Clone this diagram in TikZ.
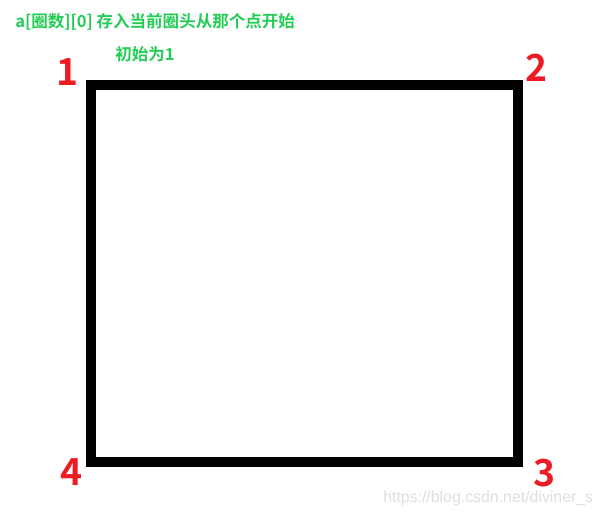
\documentclass[tikz,border=0pt]{standalone}
\usepackage{fontspec}
\newfontfamily\cjk{Noto Sans CJK SC Bold}
\newfontfamily\wmfont{Liberation Sans}
\definecolor{notegreen}{RGB}{34,204,85}
\definecolor{cornerred}{RGB}{237,28,36}
\tikzset{
  corner/.style={text=cornerred, font=\cjk\fontsize{28}{30}\selectfont, inner sep=0pt},
  note/.style={text=notegreen, font=\cjk\fontsize{12.4}{14}\selectfont, inner sep=0pt, anchor=west}
}

\begin{document}
\begin{tikzpicture}[x=0.75pt, y=-0.75pt]
      \useasboundingbox (0, 0) rectangle (603, 517);

      \coordinate (c1) at (91, 85);
      \coordinate (c2) at (518, 85);
      \coordinate (c3) at (518, 462);
      \coordinate (c4) at (91, 462);

      \draw [line width=7.5pt] (c1) -- (c2) -- (c3) -- (c4) -- cycle;

      \node [corner] (n1) at (68, 72) {1};
      \node [corner] (n2) at (537, 68) {2};
      \node [corner] (n3) at (545, 473) {3};
      \node [corner] (n4) at (72, 472) {4};

      \node [note] (head) at (15, 22) {a[圈数][0] 存入当前圈头从那个点开始};
      \node [note] (init) at (115, 54) {初始为1};

      \node [anchor=west, inner sep=0pt, text=black!13, font=\wmfont\fontsize{11.9}{13}\selectfont] (mark) at (383, 498) {https://blog.csdn.net/diviner\_s};
    \end{tikzpicture}
\end{document}
